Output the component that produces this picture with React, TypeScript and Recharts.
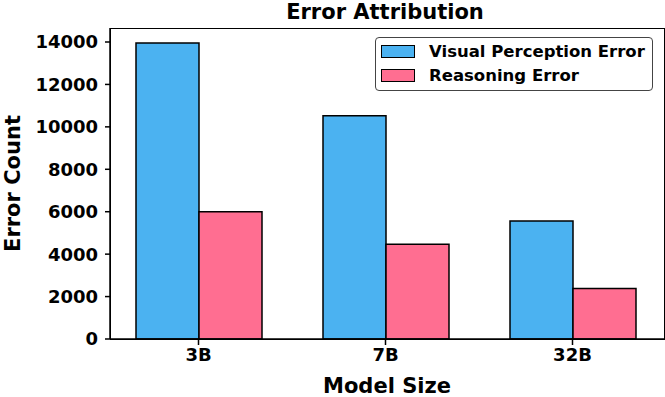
import { BarChart, Bar, XAxis, YAxis } from 'recharts';

const CATEGORIES = ['3B', '7B', '32B'];
const VISUAL_ERRORS = [13950, 10520, 5560];
const REASONING_ERRORS = [6000, 4470, 2380];
const Y_TICKS = [0, 2000, 4000, 6000, 8000, 10000, 12000, 14000];

const SERIES = [
    { key: 'visual', name: 'Visual Perception Error', color: '#4BB2F1' },
    { key: 'reasoning', name: 'Reasoning Error', color: '#FF6E91' },
];

const DATA = CATEGORIES.map((size, i) => ({
    size,
    visual: VISUAL_ERRORS[i],
    reasoning: REASONING_ERRORS[i],
}));

const FONT = '"DejaVu Sans", sans-serif';

function LegendBox() {
    return (
        <div
            style={{
                position: 'absolute',
                left: 375,
                top: 37,
                width: 278,
                height: 54,
                border: '1.3px solid #444',
                borderRadius: 4,
                background: 'white',
                fontFamily: FONT,
                fontWeight: 'bold',
                fontSize: 16.5,
                boxSizing: 'border-box',
                paddingTop: 2,
            }}
        >
            {SERIES.map((s) => (
                <div key={s.key} style={{ display: 'flex', alignItems: 'center', height: 23.5 }}>
                    <span
                        style={{
                            display: 'inline-block',
                            width: 34,
                            height: 13,
                            marginLeft: 5,
                            marginRight: 14,
                            background: s.color,
                            border: '1.5px solid black',
                            boxSizing: 'border-box',
                        }}
                    />
                    <span style={{ color: 'black' }}>{s.name}</span>
                </div>
            ))}
        </div>
    );
}

export default function App() {
    return (
        <div style={{ position: 'absolute', left: 0, top: 0, width: 665, height: 397, background: 'white' }}>
            <div
                style={{
                    position: 'absolute',
                    left: 110,
                    top: 0,
                    width: 550,
                    textAlign: 'center',
                    fontFamily: FONT,
                    fontWeight: 'bold',
                    fontSize: 21,
                    lineHeight: 'normal',
                }}
            >
                Error Attribution
            </div>
            <BarChart
                width={665}
                height={397}
                data={DATA}
                margin={{ top: 28, right: 1, bottom: 0, left: 0 }}
                barGap={0}
                barSize={63}
            >
                <XAxis
                    dataKey="size"
                    height={58}
                    padding={{ left: -5, right: -2 }}
                    stroke="black"
                    strokeWidth={1.5}
                    tickSize={6}
                    tickMargin={3}
                    tick={{ fill: 'black', fontSize: 18, fontWeight: 'bold', fontFamily: FONT }}
                    label={{
                        content: (p: any) => {
                            const vb = p.viewBox;
                            return (
                                <text
                                    x={vb.x + vb.width / 2}
                                    y={vb.y + 54}
                                    textAnchor="middle"
                                    fontFamily={FONT}
                                    fontWeight="bold"
                                    fontSize={21}
                                    fill="black"
                                >
                                    Model Size
                                </text>
                            );
                        },
                    }}
                />
                <YAxis
                    width={110}
                    domain={[0, 14660]}
                    ticks={Y_TICKS}
                    interval={0}
                    stroke="black"
                    strokeWidth={1.5}
                    tickSize={5}
                    tickMargin={7}
                    tick={{ fill: 'black', fontSize: 18, fontWeight: 'bold', fontFamily: FONT }}
                    label={{
                        content: (p: any) => {
                            const vb = p.viewBox;
                            const cx = vb.x + 20;
                            const cy = vb.y + vb.height / 2;
                            return (
                                <text
                                    x={cx}
                                    y={cy}
                                    transform={`rotate(-90 ${cx} ${cy})`}
                                    textAnchor="middle"
                                    fontFamily={FONT}
                                    fontWeight="bold"
                                    fontSize={21}
                                    fill="black"
                                >
                                    Error Count
                                </text>
                            );
                        },
                    }}
                />
                {SERIES.map((s) => (
                    <Bar
                        key={s.key}
                        dataKey={s.key}
                        name={s.name}
                        fill={s.color}
                        stroke="black"
                        strokeWidth={1.5}
                        isAnimationActive={false}
                    />
                ))}
            </BarChart>
            <div
                style={{
                    position: 'absolute',
                    left: 109.5,
                    top: 27.5,
                    width: 555,
                    height: 312,
                    border: '1.4px solid black',
                    boxSizing: 'border-box',
                    pointerEvents: 'none',
                }}
            />
            <LegendBox />
        </div>
    );
}
